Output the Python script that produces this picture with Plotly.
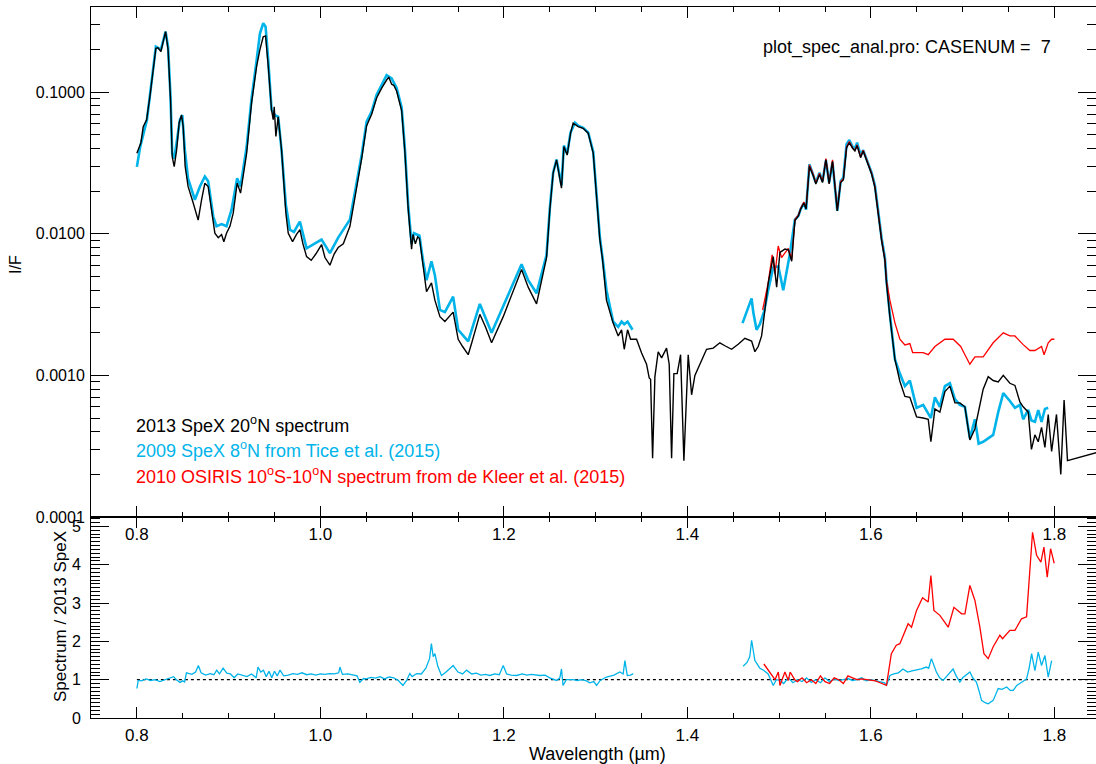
import plotly.graph_objects as go
import math

# ---------------- data ----------------
black_wl = [0.800, 0.8044, 0.8069, 0.8106, 0.8142, 0.8178, 0.8207, 0.823, 0.8262, 0.8287, 0.8313, 0.834,
            0.8367, 0.8385, 0.8407, 0.8433, 0.8461, 0.8487, 0.8505, 0.8526, 0.8558, 0.8614, 0.865, 0.8668,
            0.8705, 0.8741, 0.8777, 0.8814, 0.885, 0.8887, 0.8923, 0.8948, 0.8977, 0.9014, 0.905, 0.9093,
            0.913, 0.9196, 0.925, 0.9305, 0.9341, 0.9377, 0.9403, 0.9432, 0.9468, 0.9486, 0.9497, 0.9515,
            0.954, 0.9577, 0.9624, 0.965, 0.9697, 0.974, 0.9777, 0.981, 0.985, 0.990, 0.995, 1.0013, 1.005,
            1.0104, 1.015, 1.0194, 1.025, 1.0322, 1.0395, 1.045, 1.0504, 1.0559, 1.0613, 1.0668, 1.0722,
            1.0745, 1.0777, 1.080, 1.0831, 1.0886, 1.0921, 1.0957, 1.0994, 1.101, 1.1035, 1.106, 1.108,
            1.112, 1.1157, 1.1211, 1.1248, 1.1303, 1.1357, 1.1447, 1.1502, 1.155, 1.1611, 1.165, 1.1738,
            1.180, 1.1866, 1.1993, 1.2102, 1.2193, 1.2265, 1.2356, 1.2465, 1.2501, 1.2537, 1.2574, 1.2628,
            1.2654, 1.269, 1.2727, 1.2755, 1.281, 1.2864, 1.2919, 1.2974, 1.301, 1.3046, 1.3075, 1.3118,
            1.3191, 1.3246, 1.3283, 1.3312, 1.3348, 1.3381, 1.3446, 1.3501, 1.3555, 1.3584, 1.3599, 1.3621,
            1.3646, 1.3682, 1.3719, 1.3773, 1.3802, 1.3828, 1.3853, 1.3889, 1.3926, 1.3962, 1.4009, 1.4046,
            1.4082, 1.4137, 1.4209, 1.4282, 1.4354, 1.4409, 1.4482, 1.4554, 1.4627, 1.470, 1.4736, 1.4772,
            1.4809, 1.4845, 1.4881, 1.4936, 1.4973, 1.5009, 1.5063, 1.510, 1.5137, 1.5172, 1.521, 1.5236,
            1.527, 1.5294, 1.533, 1.5374, 1.540, 1.544, 1.5473, 1.551, 1.5545, 1.5582, 1.5634, 1.567, 1.570,
            1.5735, 1.5765, 1.5803, 1.5826, 1.585, 1.5888, 1.5916, 1.596, 1.6008, 1.6044, 1.608, 1.6117,
            1.6153, 1.617, 1.6207, 1.6262, 1.6316, 1.6371, 1.6425, 1.6498, 1.657, 1.6625, 1.6654, 1.6698,
            1.6752, 1.6807, 1.6861, 1.6916, 1.697, 1.7025, 1.7079, 1.7134, 1.7224, 1.7279, 1.7333, 1.7388,
            1.7443, 1.7515, 1.757, 1.7624, 1.766, 1.7715, 1.775, 1.7788, 1.7824, 1.786, 1.7897, 1.7933,
            1.797, 1.8023, 1.807, 1.8106, 1.8143, 1.850]
black_if = [0.037, 0.044, 0.057, 0.064, 0.093, 0.152, 0.204, 0.206, 0.194, 0.228, 0.268, 0.20,
            0.088, 0.035, 0.0298, 0.039, 0.061, 0.069, 0.057, 0.030, 0.0216, 0.0165, 0.0140, 0.0125,
            0.0174, 0.0228, 0.0216, 0.014, 0.0101, 0.0094, 0.0099, 0.0088, 0.0101, 0.0113, 0.014, 0.0228,
            0.0194, 0.037, 0.084, 0.152, 0.20, 0.246, 0.25, 0.152, 0.075, 0.064, 0.079, 0.0487,
            0.067, 0.039, 0.014, 0.0101, 0.0088, 0.0099, 0.0107, 0.0085, 0.0069, 0.0065, 0.0072, 0.0084, 0.0068,
            0.0060, 0.0072, 0.0080, 0.0085, 0.0113, 0.021, 0.034, 0.058, 0.070, 0.091, 0.107, 0.122,
            0.128, 0.114, 0.112, 0.102, 0.074, 0.038, 0.015, 0.0078, 0.0099, 0.0085, 0.0095, 0.0093,
            0.0060, 0.0039, 0.0045, 0.0034, 0.0026, 0.0024, 0.0028, 0.0018, 0.0016, 0.0014, 0.0017, 0.0027,
            0.0022, 0.0017, 0.0026, 0.0040, 0.0056, 0.0042, 0.0032, 0.0068, 0.0148, 0.0268, 0.0333, 0.021,
            0.0413, 0.036, 0.0514, 0.0604, 0.0572, 0.0556, 0.0514, 0.037, 0.0174, 0.0091, 0.0066, 0.0034,
            0.00234, 0.0019, 0.0021, 0.00153, 0.0021, 0.0018, 0.0018, 0.00144, 0.0012, 0.00096, 0.00094, 0.00026,
            0.00098, 0.00147, 0.00133, 0.00156, 0.0012, 0.00026, 0.00103, 0.00103, 0.0014, 0.00025, 0.0014, 0.00073,
            0.0010, 0.0012, 0.00153, 0.00156, 0.0017, 0.00162, 0.00153, 0.00166, 0.00183, 0.00175, 0.00147, 0.0016,
            0.0019, 0.0029, 0.0045, 0.0069, 0.0042, 0.0074, 0.0078, 0.0077, 0.0064, 0.0124, 0.0134, 0.0150,
            0.0165, 0.0150, 0.0300, 0.0255, 0.0225, 0.0262, 0.0230, 0.0335, 0.0225, 0.0325, 0.0145, 0.0230, 0.0240,
            0.0405, 0.0440, 0.0400, 0.0385, 0.0420, 0.0345, 0.0385, 0.0325, 0.0265, 0.0213, 0.0138, 0.0090,
            0.0065, 0.0045, 0.0026, 0.0013, 0.00091, 0.00071, 0.00070, 0.00051, 0.00050, 0.00049, 0.00034, 0.00058,
            0.00055, 0.00077, 0.00084, 0.00064, 0.00064, 0.00060, 0.00035, 0.00042, 0.00080, 0.00098, 0.00092, 0.00090,
            0.0010, 0.00088, 0.00085, 0.00065, 0.00060, 0.00055, 0.00030, 0.00038, 0.00034, 0.00043, 0.00031, 0.00053,
            0.00029, 0.00053, 0.00020, 0.00067, 0.00025, 0.00029]

cyan_wl = [0.800, 0.8036, 0.811, 0.818, 0.8207, 0.8262, 0.8313, 0.834, 0.8367, 0.8385, 0.8407, 0.8433,
           0.8469, 0.8495, 0.8523, 0.8558, 0.8632, 0.8687, 0.8741, 0.8777, 0.8832, 0.8868, 0.8923, 0.8977,
           0.9032, 0.9093, 0.913, 0.9196, 0.925, 0.9305, 0.9341, 0.9377, 0.9403, 0.9432, 0.9468, 0.9504,
           0.954, 0.9577, 0.9624, 0.9668, 0.9712, 0.976, 0.9777, 0.985, 0.993, 1.0013, 1.0104, 1.0194,
           1.0322, 1.0395, 1.045, 1.0504, 1.0559, 1.0613, 1.0668, 1.0722, 1.0777, 1.0831, 1.0886, 1.0921,
           1.0957, 1.0994, 1.102, 1.108, 1.112, 1.1157, 1.1211, 1.1248, 1.1303, 1.1357, 1.1447, 1.1502,
           1.1611, 1.1738, 1.1866, 1.1993, 1.2102, 1.2193, 1.2265, 1.2356, 1.2465, 1.2501, 1.2537, 1.2574,
           1.2628, 1.2654, 1.269, 1.2727, 1.2774, 1.281, 1.2864, 1.2919, 1.2974, 1.301, 1.3046, 1.3075,
           1.3118, 1.3191, 1.3246, 1.3283, 1.3312, 1.3348, 1.3402, None,
           1.4601, 1.4645, 1.470, 1.4718, 1.4754, 1.479, 1.4834, 1.4881, 1.4936, 1.4991, 1.5045, 1.5117,
           1.5172, 1.521, 1.5236, 1.527, 1.5294, 1.533, 1.5374, 1.540, 1.544, 1.5473, 1.551, 1.5545,
           1.5582, 1.5634, 1.567, 1.570, 1.5735, 1.5765, 1.5803, 1.5826, 1.585, 1.5888, 1.5916, 1.596,
           1.6008, 1.6044, 1.608, 1.6117, 1.6153, 1.617, 1.6207, 1.6262, 1.6316, 1.6371, 1.6425, 1.6498,
           1.657, 1.6625, 1.6654, 1.6698, 1.6752, 1.6807, 1.6861, 1.6916, 1.697, 1.7025, 1.7079, 1.7134,
           1.7175, 1.7224, 1.7279, 1.7333, 1.7388, 1.7443, 1.7515, 1.757, 1.7624, 1.766, 1.7715, 1.775,
           1.7788, 1.7824, 1.786, 1.7897, 1.7933]
cyan_if = [0.0297, 0.041, 0.064, 0.145, 0.21, 0.20, 0.268, 0.21, 0.092, 0.037, 0.034, 0.044,
           0.064, 0.069, 0.039, 0.0245, 0.0174, 0.0216, 0.0254, 0.0235, 0.0133, 0.0113, 0.0117, 0.0113,
           0.0148, 0.0247, 0.0216, 0.041, 0.090, 0.168, 0.26, 0.307, 0.29, 0.168, 0.075, 0.069,
           0.067, 0.039, 0.0159, 0.0107, 0.0103, 0.0117, 0.0122, 0.0079, 0.0085, 0.0091, 0.0073, 0.0094,
           0.0126, 0.0225, 0.036, 0.062, 0.073, 0.096, 0.114, 0.132, 0.125, 0.107, 0.078, 0.040,
           0.016, 0.0085, 0.0101, 0.0097, 0.0064, 0.0047, 0.0064, 0.0051, 0.0029, 0.0028, 0.0036, 0.0021,
           0.00174, 0.0032, 0.0020, 0.0031, 0.0045, 0.0061, 0.0047, 0.0038, 0.0071, 0.0152, 0.027, 0.0335,
           0.022, 0.042, 0.037, 0.052, 0.061, 0.058, 0.056, 0.052, 0.038, 0.0178, 0.0095, 0.0068,
           0.0040, 0.0024, 0.0022, 0.0024, 0.0023, 0.0024, 0.0021, None,
           0.00234, 0.0028, 0.0035, 0.0028, 0.0021, 0.0023, 0.0028, 0.0040, 0.0058, 0.0059, 0.0040, 0.0072,
           0.0126, 0.0134, 0.0150, 0.0165, 0.0148, 0.0310, 0.0260, 0.0230, 0.0270, 0.0235, 0.0330, 0.0230,
           0.0320, 0.0145, 0.0235, 0.0250, 0.0430, 0.0460, 0.0410, 0.0400, 0.0440, 0.0360, 0.0390, 0.0330,
           0.0270, 0.0220, 0.0143, 0.0093, 0.0068, 0.0047, 0.0027, 0.0013, 0.00103, 0.00084, 0.00092, 0.00059,
           0.00062, 0.00054, 0.00050, 0.00070, 0.00060, 0.00084, 0.00088, 0.00068, 0.00062, 0.00060, 0.00036, 0.00049,
           0.00033, 0.00034, 0.00036, 0.00038, 0.00055, 0.00075, 0.00066, 0.00059, 0.00062, 0.00049, 0.00057, 0.00048,
           0.00047, 0.00057, 0.00047, 0.00058, 0.00059]

red_wl = [1.482, 1.4881, 1.4924, 1.4955, 1.499, 1.5027, 1.510, 1.5137, 1.5172, 1.521, 1.5236, 1.527,
          1.5294, 1.533, 1.5374, 1.540, 1.544, 1.5473, 1.551, 1.5545, 1.5582, 1.5634, 1.567, 1.570,
          1.5735, 1.5765, 1.5803, 1.5826, 1.585, 1.5888, 1.5916, 1.596, 1.6008, 1.6044, 1.608, 1.6117,
          1.6153, 1.617, 1.6207, 1.6262, 1.6316, 1.6371, 1.6425, 1.6455, 1.657, 1.6625, 1.6698, 1.6807,
          1.6897, 1.6979, 1.7025, 1.7079, 1.7134, 1.7224, 1.7333, 1.7443, 1.7515, 1.757, 1.766, 1.7733,
          1.7788, 1.786, 1.7888, 1.7933, 1.797, 1.800]
red_if = [0.0029, 0.0045, 0.0071, 0.0052, 0.0082, 0.0068, 0.0079, 0.0066, 0.0126, 0.0136, 0.0152, 0.0168,
          0.0152, 0.0307, 0.0260, 0.0228, 0.0268, 0.0234, 0.0340, 0.0228, 0.0333, 0.0148, 0.0234, 0.0245,
          0.0413, 0.0448, 0.0403, 0.0390, 0.0425, 0.0350, 0.0390, 0.0330, 0.0268, 0.0216, 0.0140, 0.0091,
          0.0066, 0.0047, 0.0034, 0.00235, 0.0018, 0.00164, 0.00168, 0.00145, 0.00145, 0.0014, 0.0016, 0.0018,
          0.0018, 0.0016, 0.0014, 0.0012, 0.00135, 0.00135, 0.0017, 0.0020, 0.0019, 0.0019, 0.00165, 0.0015,
          0.0015, 0.0016, 0.0014, 0.0017, 0.0018, 0.0018]

ratio_cyan_wl = [0.800, 0.8015, 0.805, 0.81, 0.815, 0.82, 0.825, 0.83, 0.835, 0.84, 0.843, 0.847, 0.85, 0.852,
                 0.854, 0.86, 0.864, 0.867, 0.87, 0.875, 0.88, 0.884, 0.887, 0.89, 0.894, 0.898, 0.902, 0.906,
                 0.91, 0.915, 0.92, 0.925, 0.93, 0.932, 0.935, 0.938, 0.941, 0.944, 0.947, 0.95, 0.953, 0.956,
                 0.96, 0.965, 0.97, 0.975, 0.98, 0.985, 0.99, 0.995, 1.0, 1.005, 1.01, 1.015, 1.02, 1.0213,
                 1.024, 1.03, 1.035, 1.04, 1.043, 1.047, 1.05, 1.055, 1.06, 1.065, 1.07, 1.075, 1.08, 1.085,
                 1.09, 1.094, 1.0975, 1.1, 1.105, 1.11, 1.115, 1.119, 1.121, 1.123, 1.1248, 1.128, 1.132, 1.137,
                 1.1447, 1.15, 1.155, 1.1593, 1.165, 1.17, 1.175, 1.18, 1.1847, 1.19, 1.195, 1.1993, 1.203, 1.208,
                 1.2138, 1.22, 1.225, 1.23, 1.2392, 1.245, 1.25, 1.2574, 1.261, 1.2628, 1.2645, 1.268, 1.2755,
                 1.28, 1.285, 1.29, 1.2937, 1.298, 1.301, 1.305, 1.3118, 1.316, 1.32, 1.3264, 1.33, 1.3319,
                 1.3345, 1.338, 1.341, None,
                 1.4608, 1.465, 1.468, 1.470, 1.4736, 1.479, 1.4834, 1.488, 1.4936, 1.497, 1.5009, 1.505, 1.51,
                 1.515, 1.52, 1.525, 1.53, 1.535, 1.54, 1.545, 1.55, 1.555, 1.56, 1.565, 1.57, 1.575, 1.58,
                 1.585, 1.59, 1.595, 1.6, 1.605, 1.61, 1.615, 1.617, 1.6207, 1.625, 1.63, 1.635, 1.64, 1.646,
                 1.65, 1.655, 1.6605, 1.663, 1.666, 1.6714, 1.675, 1.6787, 1.683, 1.6896, 1.693, 1.697, 1.70,
                 1.7079, 1.711, 1.715, 1.718, 1.7206, 1.7245, 1.7279, 1.7333, 1.736, 1.7388, 1.743, 1.748,
                 1.752, 1.7552, 1.759, 1.7624, 1.766, 1.7697, 1.7725, 1.7752, 1.7788, 1.7824, 1.786, 1.7897,
                 1.7933, 1.797]
ratio_cyan = [0.77, 0.98, 0.97, 1.02, 0.98, 1.0, 0.95, 0.99, 1.04, 1.08, 1.0, 0.93, 0.97, 0.94,
              1.18, 1.14, 1.2, 1.37, 1.18, 1.12, 1.16, 1.13, 1.25, 1.15, 1.3, 1.17, 1.15, 1.05,
              1.15, 1.12, 1.08, 1.15, 1.05, 1.33, 1.2, 1.25, 1.08, 1.22, 1.05, 1.22, 1.1, 1.25,
              1.1, 1.12, 1.16, 1.14, 1.18, 1.13, 1.15, 1.12, 1.15, 1.14, 1.16, 1.15, 1.18, 1.33,
              1.14, 1.15, 1.12, 1.1, 0.93, 1.03, 1.02, 1.06, 1.04, 1.08, 1.02, 1.07, 1.05, 0.98,
              0.85, 0.98, 1.16, 1.08, 1.16, 1.15, 1.3, 1.55, 1.94, 1.6, 1.68, 1.35, 1.11, 1.2,
              1.37, 1.2, 1.15, 1.25, 1.15, 1.17, 1.12, 1.14, 1.11, 1.15, 1.13, 1.37, 1.15, 1.12,
              1.11, 1.15, 1.12, 1.14, 1.11, 1.12, 1.05, 0.98, 1.05, 1.28, 0.85, 1.0, 1.0,
              0.98, 1.0, 0.97, 0.92, 0.95, 0.85, 0.98, 1.07, 1.1, 1.12, 1.2, 1.15, 1.5,
              1.11, 1.12, 1.16, None,
              1.35, 1.45, 1.6, 2.03, 1.5, 1.3, 1.24, 1.15, 0.85, 1.0, 0.98, 0.9, 1.05,
              0.92, 1.0, 0.95, 1.05, 0.93, 1.0, 0.92, 1.05, 0.95, 1.02, 0.98, 1.0, 1.03, 0.98,
              1.0, 1.05, 0.97, 1.0, 0.97, 0.95, 0.92, 0.85, 1.11, 1.15, 1.18, 1.28, 1.2, 1.24,
              1.25, 1.28, 1.33, 1.3, 1.55, 1.2, 1.05, 0.98, 1.1, 1.28, 1.1, 0.94, 1.05,
              1.2, 1.05, 0.94, 0.7, 0.46, 0.4, 0.37, 0.46, 0.6, 0.77, 0.75, 0.81,
              0.72, 0.72, 0.85, 0.9, 0.95, 1.02, 1.3, 1.68, 1.24, 1.72, 1.37, 1.63,
              1.07, 1.5]

ratio_red_wl = [1.4834, 1.4918, 1.4955, 1.4991, 1.5009, 1.5063, 1.51, 1.512, 1.517, 1.52, 1.525, 1.53,
                1.535, 1.54, 1.545, 1.55, 1.555, 1.56, 1.565, 1.57, 1.575, 1.58, 1.585, 1.59, 1.595, 1.6,
                1.605, 1.61, 1.617, 1.6223, 1.6277, 1.6316, 1.636, 1.6406, 1.6443, 1.6498, 1.6563, 1.6625,
                1.6654, 1.6687, 1.6752, 1.6843, 1.6905, 1.6989, 1.7025, 1.7079, 1.7134, 1.7188, 1.7232,
                1.7279, 1.7333, 1.7406, 1.7435, 1.7515, 1.757, 1.7642, 1.7697, 1.7762, 1.7806, 1.7853,
                1.7886, 1.7922, 1.7959, 1.7998]
ratio_red = [1.41, 1.11, 1.0, 1.2, 0.85, 1.2, 0.98, 1.2, 1.0, 0.95, 1.05, 0.92,
             1.0, 0.9, 1.1, 0.95, 0.9, 1.05, 1.0, 0.9, 1.1, 1.05, 1.0, 1.02, 1.0, 0.98,
             0.97, 0.92, 0.85, 1.68, 1.9, 1.94, 2.2, 2.46, 2.37, 2.81, 3.14, 3.03,
             3.72, 2.81, 2.68, 2.37, 2.89, 2.72, 2.72, 3.46, 3.07, 2.37, 1.68,
             1.55, 1.86, 2.16, 2.07, 2.29, 2.29, 2.59, 2.64, 4.85, 4.25, 4.07,
             4.46, 3.68, 4.42, 4.04]

unity_wl = [0.80, 1.85]
unity_val = [1.0, 1.0]

x_tickvals = [0.8, 1.0, 1.2, 1.4, 1.6, 1.8]
x_ticktext = ["0.8", "1.0", "1.2", "1.4", "1.6", "1.8"]
y_tickvals = [0.0001, 0.001, 0.01, 0.1]
y_ticktext = ["0.0001", "0.0010", "0.0100", "0.1000"]

legend_texts = ["2013 SpeX 20<sup>o</sup>N spectrum",
                "2009 SpeX 8<sup>o</sup>N from Tice et al. (2015)",
                "2010 OSIRIS 10<sup>o</sup>S-10<sup>o</sup>N spectrum from de Kleer et al. (2015)"]
legend_y = [0.000450, 0.000298, 0.000197]
header_text = "plot_spec_anal.pro: CASENUM =\u00a0 7"

# ---------------- style ----------------
BLACK = "#000000"
CYAN = "#00B4EA"
RED = "#FF0000"
FONT = "Liberation Sans, Arial, sans-serif"

fig = go.Figure()

fig.add_trace(go.Scatter(x=cyan_wl, y=cyan_if, mode="lines", line=dict(color=CYAN, width=2.6),
                         xaxis="x", yaxis="y", showlegend=False, connectgaps=False))
fig.add_trace(go.Scatter(x=red_wl, y=red_if, mode="lines", line=dict(color=RED, width=1.3),
                         xaxis="x", yaxis="y", showlegend=False))
fig.add_trace(go.Scatter(x=black_wl, y=black_if, mode="lines", line=dict(color=BLACK, width=1.4),
                         xaxis="x", yaxis="y", showlegend=False))

fig.add_trace(go.Scatter(x=unity_wl, y=unity_val, mode="lines", line=dict(color=BLACK, width=1.2, dash="dot"),
                         xaxis="x2", yaxis="y2", showlegend=False))
fig.add_trace(go.Scatter(x=ratio_cyan_wl, y=ratio_cyan, mode="lines", line=dict(color=CYAN, width=1.3),
                         xaxis="x2", yaxis="y2", showlegend=False, connectgaps=False))
fig.add_trace(go.Scatter(x=ratio_red_wl, y=ratio_red, mode="lines", line=dict(color=RED, width=1.3),
                         xaxis="x2", yaxis="y2", showlegend=False))

# Figure fills the whole 1096x764 window (page margin is removed after drawing).
W, H = 1096, 764
ML, MR, MT, MB = 91, 0, 7, 46
PLOT_H = H - MT - MB          # 711
PLOT_W = W - ML - MR          # 1005
split = (718 - 517) / PLOT_H
PX_PER_UM = 917.5
xrange_ = [0.75, 0.75 + PLOT_W / PX_PER_UM]
y_top_log = -1 + (92.3 - MT) / 141.7
y2_top = (718 - 517) / 38.3


def px(screen_x):
    return (screen_x - ML) / PLOT_W


def py(screen_y):
    return (H - MB - screen_y) / PLOT_H


xtickfont = dict(family=FONT, size=17, color=BLACK)
ytickfont = dict(family=FONT, size=16, color=BLACK)
common_x = dict(range=xrange_, showline=True, linecolor=BLACK, linewidth=1, mirror="ticks",
                ticks="inside", ticklen=11, tickwidth=1, tickcolor=BLACK,
                tickvals=x_tickvals, ticktext=x_ticktext, tickfont=xtickfont,
                minor=dict(ticks="inside", ticklen=5, dtick=0.05, tick0=0.8, tickcolor=BLACK, showgrid=False),
                showgrid=False, zeroline=False, ticklabelstandoff=2, automargin=False)

minor_log = [k * 10 ** e for e in range(-4, 0) for k in range(2, 10)]

fig.update_layout(
    width=W, height=H,
    margin=dict(l=ML, r=MR, t=MT, b=MB, autoexpand=False),
    paper_bgcolor="white", plot_bgcolor="white",
    font=dict(family=FONT, size=16, color=BLACK),
    xaxis=dict(anchor="y", domain=[0, 1], **common_x),
    yaxis=dict(anchor="x", domain=[split, 1], type="log", range=[-4, y_top_log],
               showline=True, linecolor=BLACK, linewidth=1, mirror="ticks",
               ticks="inside", ticklen=18, tickwidth=1, tickcolor=BLACK,
               tickvals=y_tickvals, ticktext=y_ticktext, tickfont=ytickfont,
               minor=dict(ticks="inside", ticklen=9, tickvals=minor_log, tickcolor=BLACK, showgrid=False),
               showgrid=False, zeroline=False, automargin=False, ticklabelstandoff=2),
    xaxis2=dict(anchor="y2", domain=[0, 1], **common_x),
    yaxis2=dict(anchor="x2", domain=[0, split], range=[0, y2_top],
                showline=True, linecolor=BLACK, linewidth=1, mirror="ticks",
                ticks="inside", ticklen=18, tickwidth=1, tickcolor=BLACK,
                tickvals=[0, 1, 2, 3, 4, 5], tickfont=ytickfont,
                minor=dict(ticks="inside", ticklen=9, dtick=0.1, tick0=0, tickcolor=BLACK, showgrid=False),
                showgrid=False, zeroline=False, automargin=False, ticklabelstandoff=6),
)

annots = []
annots.append(dict(text=header_text, x=1.7984, xref="x", y=math.log10(0.2056),
                   yref="y", xanchor="right", yanchor="middle", showarrow=False,
                   font=dict(family=FONT, size=18, color=BLACK)))
leg_col = [BLACK, CYAN, RED]
for t, yy, c in zip(legend_texts, legend_y, leg_col):
    annots.append(dict(text=t, x=0.8, xref="x", y=math.log10(yy), yref="y", xanchor="left",
                       yanchor="middle", showarrow=False, xshift=-3,
                       font=dict(family=FONT, size=18, color=c)))
annots.append(dict(text="I/F", x=px(15), xref="paper", y=py(265),
                   yref="paper", textangle=-90, showarrow=False, xanchor="center", yanchor="middle",
                   font=dict(family=FONT, size=16, color=BLACK)))
annots.append(dict(text="Spectrum / 2013 SpeX", x=px(60), xref="paper",
                   y=py(617), yref="paper", textangle=-90, showarrow=False,
                   xanchor="center", yanchor="middle", font=dict(family=FONT, size=17, color=BLACK)))
annots.append(dict(text="Wavelength (\u00b5m)", x=px(597), xref="paper",
                   y=py(754), yref="paper", showarrow=False,
                   xanchor="center", yanchor="middle", font=dict(family=FONT, size=18, color=BLACK)))
fig.update_layout(annotations=annots)

fig.write_html(
    "out.html",
    config={"displayModeBar": False, "staticPlot": True},
    post_script="document.body.style.margin='0px';document.body.style.padding='0px';"
                "document.documentElement.style.overflow='hidden';",
)
